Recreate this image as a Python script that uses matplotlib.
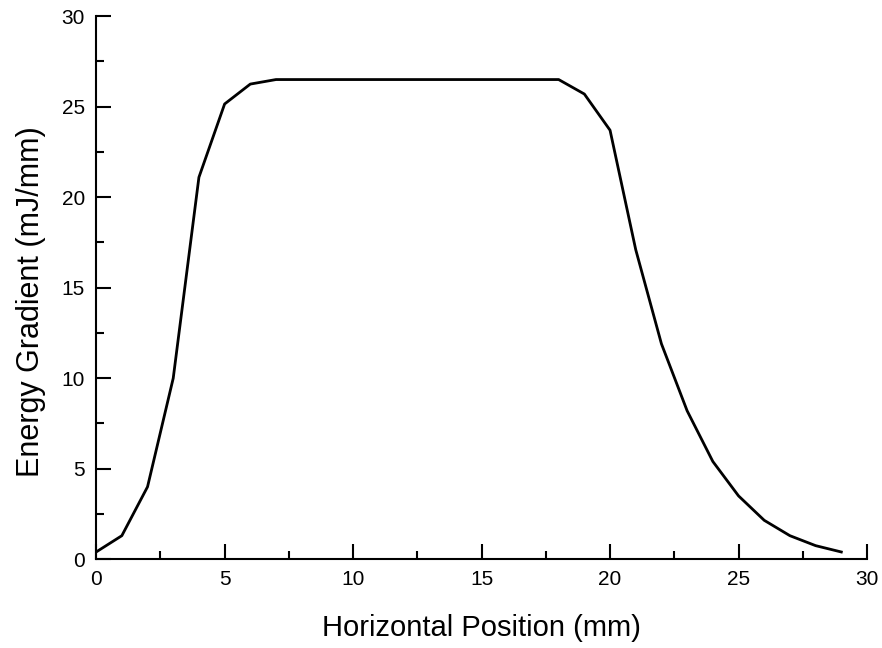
import matplotlib
matplotlib.use("Agg")
import matplotlib.pyplot as plt
from matplotlib.ticker import MultipleLocator
import numpy as np

plt.rcParams['font.family'] = ['Liberation Sans', 'DejaVu Sans']

# horizontal position (mm) and energy gradient (mJ/mm)
position = list(range(30))
gradient = [0.4, 1.3, 4.0, 10.0, 21.1, 25.15, 26.25, 26.5, 26.5, 26.5,
            26.5, 26.5, 26.5, 26.5, 26.5, 26.5, 26.5, 26.5, 26.5, 25.7,
            23.7, 17.1, 11.9, 8.2, 5.4, 3.5, 2.15, 1.3, 0.75, 0.4]

fig = plt.figure(figsize=(8.82, 6.48), dpi=100)
ax = fig.add_axes([0.109, 0.137, 0.874, 0.838])

ax.plot(position, gradient, color='black', linewidth=2)

ax.set_xlim(0, 30)
ax.set_ylim(0, 30)
ax.spines['top'].set_visible(False)
ax.spines['right'].set_visible(False)
for s in ('left', 'bottom'):
    ax.spines[s].set_linewidth(1.5)

ax.xaxis.set_major_locator(MultipleLocator(5))
ax.xaxis.set_minor_locator(MultipleLocator(2.5))
ax.yaxis.set_major_locator(MultipleLocator(5))
ax.yaxis.set_minor_locator(MultipleLocator(2.5))
ax.tick_params(which='major', direction='in', length=11, width=1.5, labelsize=15, pad=8)
ax.tick_params(which='minor', direction='in', length=6, width=1.5)

ax.set_xlabel('Horizontal Position (mm)', fontsize=21, labelpad=18)
ax.set_ylabel('Energy Gradient (mJ/mm)', fontsize=22, labelpad=11)
ax.yaxis.label.set_y(0.475)

fig.savefig('out.png', dpi=100)
